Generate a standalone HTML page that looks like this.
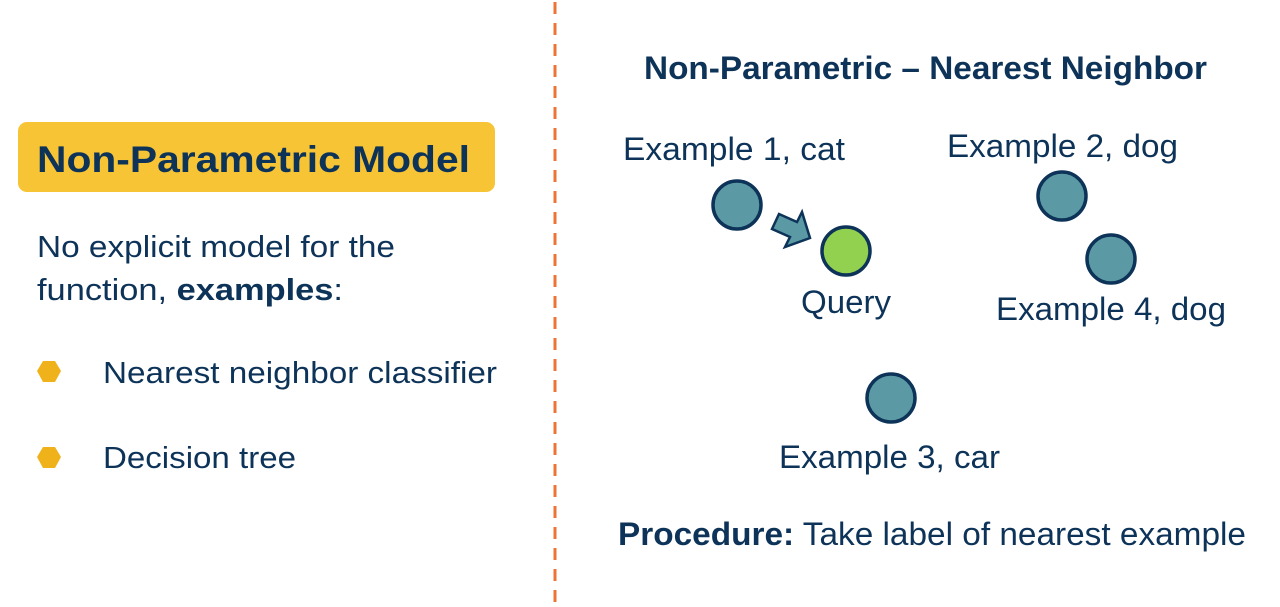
<!DOCTYPE html>
<html><head><meta charset="utf-8"><style>
html,body{margin:0;padding:0;background:#fff;}
svg{display:block;}
text{font-family:"Liberation Sans",Arial,sans-serif;fill:#0d3358;}
</style></head><body>
<svg width="1280" height="607" viewBox="0 0 1280 607" xmlns="http://www.w3.org/2000/svg">
<line x1="555" y1="2" x2="555" y2="607" stroke="#ee7436" stroke-width="3" stroke-dasharray="12,9"/>
<rect x="18" y="122" width="477" height="70" rx="9" fill="#f7c436"/>
<text x="37" y="172" font-size="37" font-weight="bold" textLength="433" lengthAdjust="spacingAndGlyphs">Non-Parametric Model</text>
<text x="37" y="257" font-size="31" textLength="358" lengthAdjust="spacingAndGlyphs">No explicit model for the</text>
<text x="37" y="300" font-size="31" textLength="306" lengthAdjust="spacingAndGlyphs">function, <tspan font-weight="bold">examples</tspan>:</text>
<polygon points="37,371 43,361 55,361 61,371 55,382 43,382" fill="#f0b21b"/>
<polygon points="37,457 43,447 55,447 61,457 55,468 43,468" fill="#f0b21b"/>
<text x="103" y="383" font-size="31" textLength="394" lengthAdjust="spacingAndGlyphs">Nearest neighbor classifier</text>
<text x="103" y="468" font-size="31" textLength="193" lengthAdjust="spacingAndGlyphs">Decision tree</text>

<text x="644" y="79" font-size="32" font-weight="bold" textLength="563" lengthAdjust="spacingAndGlyphs">Non-Parametric – Nearest Neighbor</text>
<text x="623" y="160" font-size="32" textLength="222" lengthAdjust="spacingAndGlyphs">Example 1, cat</text>
<text x="947" y="157" font-size="32" textLength="231" lengthAdjust="spacingAndGlyphs">Example 2, dog</text>
<text x="801" y="313" font-size="32" textLength="90" lengthAdjust="spacingAndGlyphs">Query</text>
<text x="996" y="320" font-size="32" textLength="230" lengthAdjust="spacingAndGlyphs">Example 4, dog</text>
<text x="779" y="468" font-size="32" textLength="221" lengthAdjust="spacingAndGlyphs">Example 3, car</text>
<text x="618" y="545" font-size="32" textLength="628" lengthAdjust="spacingAndGlyphs"><tspan font-weight="bold">Procedure:</tspan> Take label of nearest example</text>

<g stroke="#0d3358" stroke-width="3.5">
<circle cx="737" cy="205" r="24" fill="#5b9aa5"/>
<circle cx="846" cy="251" r="24" fill="#92d050"/>
<circle cx="1062" cy="196" r="24" fill="#5b9aa5"/>
<circle cx="1111" cy="259" r="24" fill="#5b9aa5"/>
<circle cx="891" cy="398" r="24" fill="#5b9aa5"/>
<polygon points="772,229 779,214 797,222 802,212 810,238 785,247 790,237" fill="#5b9aa5" stroke-width="2.5" stroke-linejoin="miter"/>
</g>
</svg>
</body></html>
